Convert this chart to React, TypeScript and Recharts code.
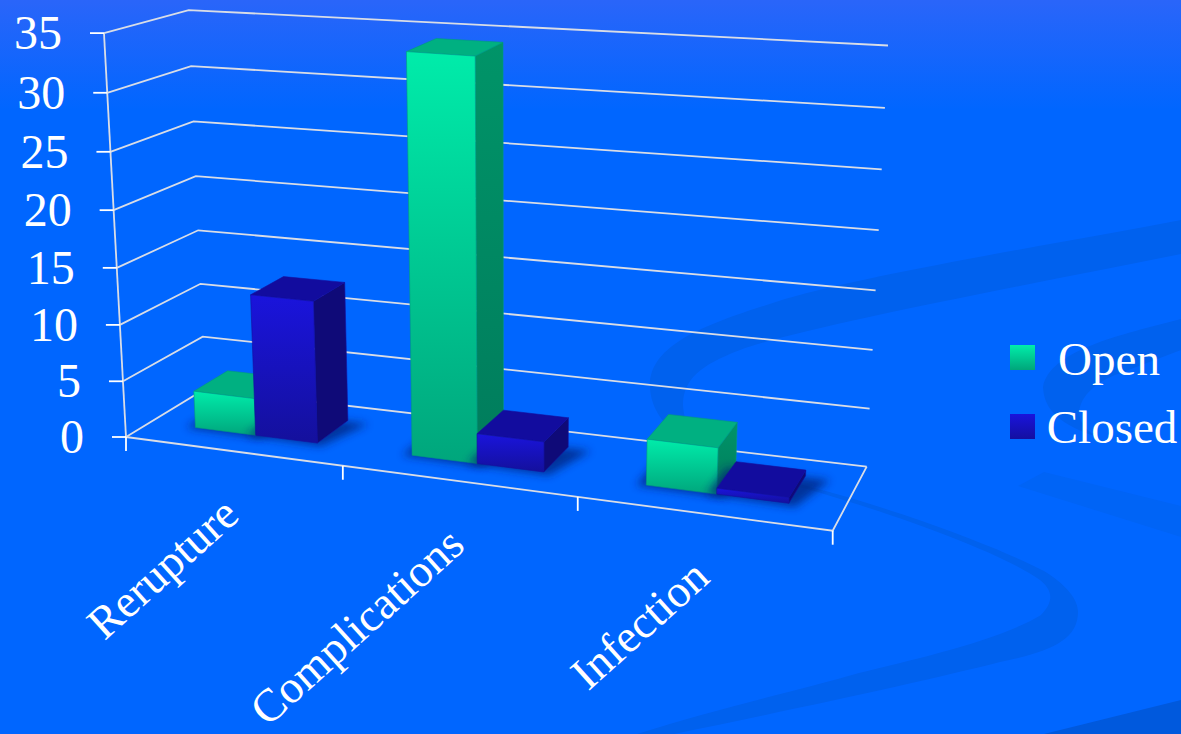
import React from "react";
import { BarChart, Bar, XAxis, YAxis, CartesianGrid, Legend } from "recharts";

const categories = ["Rerupture", "Complications", "Infection"];
const openValues = [3.3, 34.2, 3.9];
const closedValues = [12.5, 2.6, 0.5];
const yTicks = [0, 5, 10, 15, 20, 25, 30, 35];

const rows = categories.map((name, i) => ({ name, open: openValues[i], closed: closedValues[i] }));

const W = 1181;
const H = 734;
const margin = { top: 40, right: 200, bottom: 99, left: 99 };
const plot = { x: 100, y: 40, w: 881, h: 594 };

type P = [number, number];
type Quad = [P, P, P, P];

// Floor corners, in order front-left, front-right, back-right, back-left.
const floorQuad: Quad = [[126, 437], [832.7, 530.7], [866.7, 466.7], [205, 389]];
// Verticals converge on this far-off point below the chart; rise says how far the box top sits from the floor, per corner.
const verticalVanish: P = [511, 7498];
const rise = { fl: 0.0572, fr: 0.0638, br: 0.0599, bl: 0.0533 };

function squareToQuad(q: Quad) {
  const [[x0, y0], [x1, y1], [x2, y2], [x3, y3]] = q;
  const dx1 = x1 - x2, dx2 = x3 - x2, dx3 = x0 - x1 + x2 - x3;
  const dy1 = y1 - y2, dy2 = y3 - y2, dy3 = y0 - y1 + y2 - y3;
  const den = dx1 * dy2 - dx2 * dy1;
  const g = (dx3 * dy2 - dx2 * dy3) / den;
  const h = (dx1 * dy3 - dx3 * dy1) / den;
  const a = x1 - x0 + g * x1, b = x3 - x0 + h * x3;
  const d = y1 - y0 + g * y1, e = y3 - y0 + h * y3;
  return (u: number, w: number): P => {
    const k = g * u + h * w + 1;
    return [(a * u + b * w + x0) / k, (d * u + e * w + y0) / k];
  };
}

const floorAt = squareToQuad(floorQuad);

// u runs along the category axis, w into the depth, v up the value axis (all 0..1).
function project(u: number, w: number, v: number): P {
  const uu = u + 0.05 * u * (1 - u);
  const vv = v - 0.04 * v * (1 - v);
  const [fx, fy] = floorAt(uu, w);
  const s = (rise.fl * (1 - u) + rise.fr * u) * (1 - w) + (rise.bl * (1 - u) + rise.br * u) * w;
  return [fx - (verticalVanish[0] - fx) * s * vv, fy - (verticalVanish[1] - fy) * s * vv];
}

const toU = (x: number) => (x - plot.x) / plot.w;
const toV = (y: number) => (plot.y + plot.h - y) / plot.h;
const pts = (list: P[]) => list.map((p) => `${p[0].toFixed(1)},${p[1].toFixed(1)}`).join(" ");

const DEPTH_FRONT = 0.3;
const DEPTH_BACK = 0.74;
const GRID = "#d9dde6";
const SERIF = "'Liberation Serif', 'Times New Roman', serif";

type Palette = { front: string; top: string; side: string; edge: string };
const openPalette: Palette = { front: "url(#openFront)", top: "#00b081", side: "url(#openSide)", edge: "#009a80" };
const closedPalette: Palette = { front: "url(#closedFront)", top: "#120c9e", side: "#0f0a78", edge: "#140fa0" };

function box3d(props: any, palette: Palette) {
  const { x, y, width, height } = props;
  const u0 = toU(x);
  const u1 = toU(x + width);
  const v1 = toV(y);
  const v0 = toV(y + height);
  const f0 = DEPTH_FRONT;
  const f1 = DEPTH_BACK;
  const shadow: P[] = [
    project(u0 - 0.012, f0 - 0.02, 0),
    project(u1 + 0.01, f0 - 0.04, 0),
    project(u1 + 0.034, f1 - 0.02, 0),
    project(u0 - 0.012, f1 - 0.02, 0),
  ];
  return (
    <g>
      <polygon points={pts(shadow)} fill="#00237a" opacity={0.75} filter="url(#floorShadow)" />
      <polygon
        points={pts([project(u1, f0, v0), project(u1, f1, v0), project(u1, f1, v1), project(u1, f0, v1)])}
        fill={palette.side}
        stroke={palette.edge}
        strokeWidth={0.6}
      />
      <polygon
        points={pts([project(u0, f0, v1), project(u1, f0, v1), project(u1, f1, v1), project(u0, f1, v1)])}
        fill={palette.top}
        stroke={palette.edge}
        strokeWidth={0.6}
      />
      <polygon
        points={pts([project(u0, f0, v0), project(u1, f0, v0), project(u1, f0, v1), project(u0, f0, v1)])}
        fill={palette.front}
        stroke={palette.edge}
        strokeWidth={0.6}
      />
    </g>
  );
}

function gridLine(props: any) {
  const v = toV(props.y1);
  const back = (
    <polyline
      key={`wall-${props.index}`}
      points={pts([project(0, 0, v), project(0, 1, v), project(1, 1, v)])}
      fill="none"
      stroke={GRID}
      strokeWidth={1.8}
    />
  );
  if (v > 0.001) return back;
  // The zero line also carries the floor's outline and the vertical value axis.
  return (
    <g key="floor">
      {back}
      <polyline
        points={pts([project(0, 0, 0), project(1, 0, 0), project(1, 1, 0)])}
        fill="none"
        stroke={GRID}
        strokeWidth={1.8}
      />
      <line
        x1={project(0, 0, 0)[0]}
        y1={project(0, 0, 0)[1]}
        x2={project(0, 0, 1)[0]}
        y2={project(0, 0, 1)[1]}
        stroke={GRID}
        strokeWidth={1.8}
      />
    </g>
  );
}

function ValueTick(props: any) {
  const { y, payload } = props;
  const [px, py] = project(0, 0, toV(y));
  return (
    <g>
      <line x1={px - 14} y1={py} x2={px} y2={py} stroke="#ffffff" strokeWidth={1.8} />
      <text x={px - 42} y={py + 16} textAnchor="end" fontFamily={SERIF} fontSize={48} fill="#ffffff">
        {payload.value}
      </text>
    </g>
  );
}

function CategoryTick(props: any) {
  const { x, index, payload } = props;
  const u = toU(x);
  const step = 1 / categories.length;
  const left = project(u - step / 2, 0, 0);
  const right = project(u + step / 2, 0, 0);
  const [cx, cy] = project(u, 0, 0);
  return (
    <g>
      <line x1={left[0]} y1={left[1]} x2={left[0]} y2={left[1] + 14} stroke="#ffffff" strokeWidth={1.8} />
      {index === categories.length - 1 && (
        <line x1={right[0]} y1={right[1]} x2={right[0]} y2={right[1] + 14} stroke="#ffffff" strokeWidth={1.8} />
      )}
      <text
        transform={`translate(${cx + 9} ${cy + 67}) rotate(-42)`}
        textAnchor="end"
        fontFamily={SERIF}
        fontSize={46}
        fill="#ffffff"
      >
        {payload.value}
      </text>
    </g>
  );
}

function LegendBlock(props: any) {
  const items = props.payload || [];
  const tops = [345, 414];
  const centers = [1109, 1112];
  const baselines = [374, 442];
  return (
    <div style={{ position: "absolute", left: 0, top: 0, width: W, height: H, pointerEvents: "none" }}>
      {items.map((it: any, i: number) => (
        <React.Fragment key={it.value}>
          <div
            style={{
              position: "absolute",
              left: 1010,
              top: tops[i],
              width: 25,
              height: 25,
              background: i === 0 ? "linear-gradient(#00eeaa, #00a67a)" : "linear-gradient(#1a14dc, #140fa0)",
            }}
          />
          <div
            style={{
              position: "absolute",
              left: centers[i] - 100,
              width: 200,
              top: baselines[i] - 42,
              textAlign: "center",
              fontFamily: SERIF,
              fontSize: 47,
              lineHeight: "54px",
              color: "#ffffff",
            }}
          >
            {it.value}
          </div>
        </React.Fragment>
      ))}
    </div>
  );
}

function Backdrop() {
  return (
    <svg width={W} height={H} style={{ position: "absolute", left: 0, top: 0 }}>
      <defs>
        <linearGradient id="sky" x1="0" y1="0" x2="0" y2="1">
          <stop offset="0" stopColor="#2a65f9" />
          <stop offset="0.15" stopColor="#0066ff" />
          <stop offset="1" stopColor="#0066ff" />
        </linearGradient>
        <linearGradient id="openFront" x1="0" y1="0" x2="0" y2="1">
          <stop offset="0" stopColor="#00ecaa" />
          <stop offset="1" stopColor="#00a67c" />
        </linearGradient>
        <linearGradient id="openSide" x1="0" y1="0" x2="0" y2="1">
          <stop offset="0" stopColor="#009468" />
          <stop offset="1" stopColor="#007c5c" />
        </linearGradient>
        <linearGradient id="closedFront" x1="0" y1="0" x2="0" y2="1">
          <stop offset="0" stopColor="#1a14dc" />
          <stop offset="1" stopColor="#14109c" />
        </linearGradient>
        <filter id="floorShadow" x="-30%" y="-50%" width="160%" height="200%">
          <feGaussianBlur stdDeviation="4" />
        </filter>
      </defs>
      <rect width={W} height={H} fill="url(#sky)" />
      <path
        fill="#0061ee"
        d="M1181 220 C1050 245 880 272 785 299 C720 320 650 340 650 385 C650 425 690 458 807 486 C900 510 1000 548 1044 571 C1068 586 1078 600 1078 612 C1078 640 1050 652 1000 662 C930 680 800 708 674 734 L637 734 C720 708 800 690 859 673 C920 658 1000 640 1041 615 C1055 600 1052 590 1040 580 C1000 552 900 516 807 489 C730 470 685 450 683 405 C683 380 700 365 740 350 C800 328 1000 290 1181 254 Z"
      />
      <path
        fill="#0061ee"
        d="M1181 319 C1120 335 1050 350 1043 387 C1044 410 1060 425 1100 438 C1060 418 1085 385 1118 374 L1181 350 Z"
      />
      <path fill="#0064f6" d="M1044 472 L1181 506 L1181 537 L1018 486 Z" />
      <path fill="#0059dd" d="M1181 700 L1181 734 L1044 734 Z" />
    </svg>
  );
}

export default function App() {
  return (
    <div style={{ position: "fixed", left: 0, top: 0, width: W, height: H, overflow: "hidden" }}>
      <Backdrop />
      <BarChart
        width={W}
        height={H}
        data={rows}
        margin={margin}
        barCategoryGap="21.5%"
        barGap={0}
        style={{ position: "absolute", left: 0, top: 0 }}
      >
        <CartesianGrid horizontal={gridLine} vertical={false} />
        <XAxis dataKey="name" height={1} axisLine={false} tickLine={false} tick={CategoryTick} interval={0} />
        <YAxis
          width={1}
          domain={[0, 35]}
          ticks={yTicks}
          axisLine={false}
          tickLine={false}
          tick={ValueTick}
          interval={0}
        />
        <Legend layout="horizontal" verticalAlign="middle" itemSorter={null} wrapperStyle={{ left: 0, top: 0 }} content={LegendBlock} />
        <Bar dataKey="open" name="Open" fill="#00d69a" isAnimationActive={false} shape={(p: any) => box3d(p, openPalette)} />
        <Bar dataKey="closed" name="Closed" fill="#1a14cc" isAnimationActive={false} shape={(p: any) => box3d(p, closedPalette)} />
      </BarChart>
    </div>
  );
}
